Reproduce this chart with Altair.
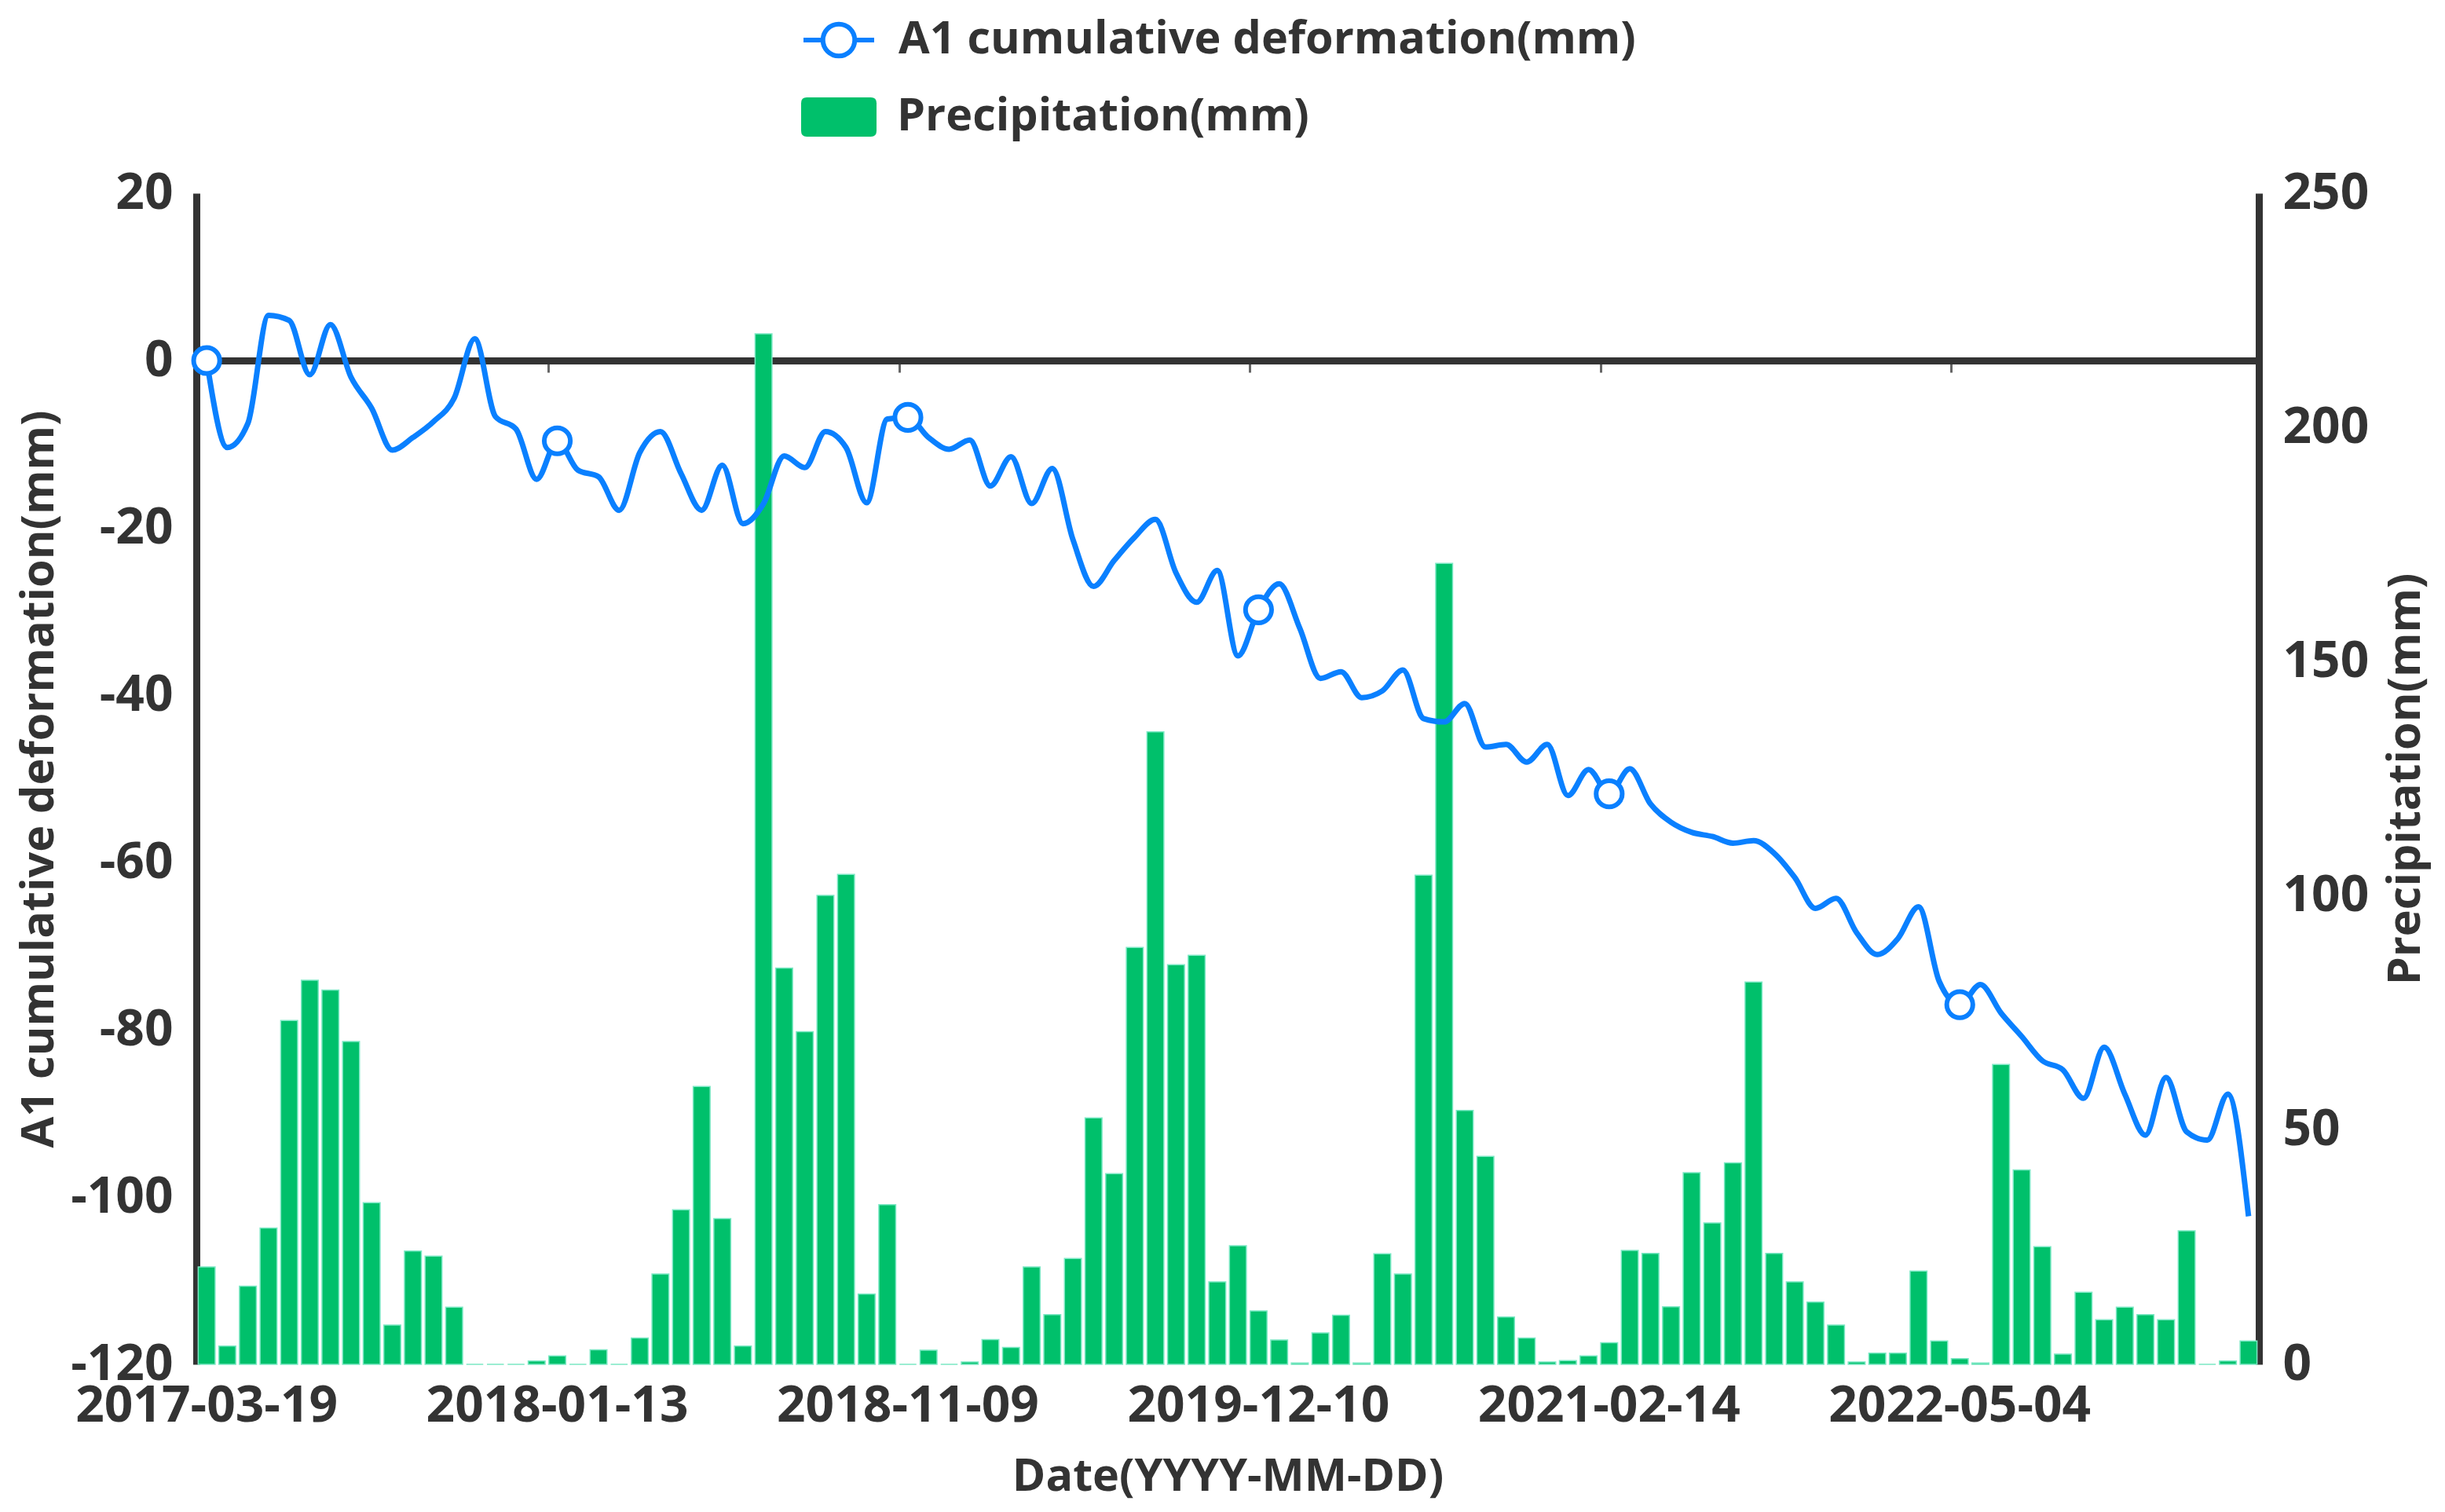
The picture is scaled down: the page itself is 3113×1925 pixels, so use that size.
import altair as alt
import pandas as pd

# ---------------- data ----------------
category_index = list(range(100))

deformation = [
    0.0, -10.4, -7.5, 5.4, 4.8, -1.7, 4.3, -2.0, -5.7, -10.7,
    -9.2, -7.3, -4.5, 2.6, -6.7, -8.2, -14.2, -9.6, -13.1, -13.9,
    -17.9, -11.0, -8.5, -13.5, -17.9, -12.5, -19.5, -17.1, -11.4, -12.8,
    -8.5, -10.4, -17.0, -7.0, -6.8, -9.2, -10.6, -9.5, -15.0, -11.5,
    -17.1, -12.9, -21.4, -27.0, -23.9, -21.1, -19.0, -25.4, -28.9, -25.1,
    -35.3, -29.8, -26.7, -32.0, -38.0, -37.2, -40.3, -39.5, -37.0, -42.8,
    -43.2, -41.0, -46.2, -45.9, -48.0, -45.9, -52.0, -48.9, -51.8, -48.8,
    -53.0, -55.2, -56.4, -56.9, -57.7, -57.4, -58.9, -61.8, -65.5, -64.3,
    -68.4, -71.0, -69.1, -65.3, -74.2, -77.0, -74.6, -78.0, -80.8, -83.7,
    -84.8, -88.2, -82.1, -87.7, -92.6, -85.7, -92.2, -93.2, -87.7, -102.3,
]

precipitation = [
    20.8, 3.9, 16.7, 29.1, 73.4, 82.0, 79.9, 68.9, 34.5, 8.4,
    24.2, 23.1, 12.2, 0, 0, 0, 0.7, 1.8, 0, 3.1,
    0, 5.6, 19.3, 33.0, 59.3, 31.1, 3.9, 220, 84.6, 71.0,
    100.1, 104.6, 15.0, 34.1, 0, 3.0, 0, 0.5, 5.3, 3.6,
    20.8, 10.6, 22.6, 52.6, 40.7, 89.0, 135, 85.3, 87.3, 17.6,
    25.3, 11.4, 5.2, 0.3, 6.7, 10.5, 0.3, 23.6, 19.3, 104.4,
    171, 54.2, 44.4, 10.1, 5.6, 0.5, 0.8, 1.8, 4.6, 24.3,
    23.7, 12.3, 40.9, 30.2, 43.0, 81.6, 23.7, 17.6, 13.3, 8.4,
    0.5, 2.4, 2.4, 19.9, 5.0, 1.2, 0.3, 64.0, 41.5, 25.1,
    2.2, 15.4, 9.5, 12.2, 10.6, 9.5, 28.5, 0, 0.7, 5.0,
]

tick_index = [0, 17, 34, 51, 68, 85]
tick_labels = ["2017-03-19", "2018-01-13", "2018-11-09",
               "2019-12-10", "2021-02-14", "2022-05-04"]
left_ticks = [-120, -100, -80, -60, -40, -20, 0, 20]
right_ticks = [0, 50, 100, 150, 200, 250]

line_name = "A1 cumulative deformation(mm)"
bar_name = "Precipitation(mm)"

df = pd.DataFrame({"idx": category_index,
                   "deformation": deformation,
                   "precip": precipitation})

# ---------------- style ----------------
W, H = 2626, 1491
FONT = "Open Sans"
DARK = "#333333"
BLUE = "#0a80ff"
GREEN = "#00c06b"
FS_TICK = 64
FS_TITLE = 57.5

label_expr = "''"
for i, lab in reversed(list(zip(tick_index, tick_labels))):
    label_expr = f"datum.value == {i} ? '{lab}' : ({label_expr})"

xscale = alt.Scale(paddingInner=0.18, paddingOuter=0.09)
left_scale = alt.Scale(domain=[-120, 20], nice=False, zero=False)

line_symbol = ("M-1,0L-0.45,0M0.45,0L1,0M0.45,0A0.45,0.45,0,1,1,-0.45,0"
               "A0.45,0.45,0,1,1,0.45,0Z")
rect_symbol = ("M-0.85,-0.52L0.85,-0.52Q1,-0.52,1,-0.37L1,0.37Q1,0.52,0.85,0.52"
               "L-0.85,0.52Q-1,0.52,-1,0.37L-1,-0.37Q-1,-0.52,-0.85,-0.52Z")

tick_style = dict(labelFont=FONT, labelFontSize=FS_TICK, labelFontWeight="bold",
                  labelColor=DARK)
title_style = dict(titleFont=FONT, titleFontSize=FS_TITLE, titleFontWeight="bold",
                   titleColor=DARK)
legend_style = dict(orient="none", title=None, labelFont=FONT,
                    labelFontSize=FS_TITLE, labelFontWeight="bold",
                    labelColor=DARK, labelLimit=3000, padding=0)

base = alt.Chart(df)

bars = base.transform_calculate(
    bar_series=f"'{bar_name}'"
).mark_bar(stroke="#7be8c4", strokeWidth=1.5).encode(
    x=alt.X("idx:O", scale=xscale,
            axis=alt.Axis(values=tick_index, labelExpr=label_expr, labelAngle=0,
                          labelLimit=1000, labelOverlap=False,
                          ticks=False, domain=False, grid=False,
                          labelPadding=21, title="Date(YYYY-MM-DD)",
                          titleBaseline="middle", titleY=143,
                          **tick_style, **title_style)),
    y=alt.Y("precip:Q", scale=alt.Scale(domain=[0, 250], nice=False),
            axis=alt.Axis(orient="right", values=right_ticks, ticks=False,
                          grid=False, domainWidth=9, domainColor=DARK,
                          labelPadding=30, title=bar_name,
                          titleAngle=270, titleBaseline="middle", titleX=187,
                          **tick_style, **title_style)),
    fill=alt.Fill("bar_series:N", scale=alt.Scale(domain=[bar_name], range=[GREEN]),
                  legend=alt.Legend(legendX=770, legendY=-145,
                                    symbolType=rect_symbol, symbolSize=9216,
                                    symbolStrokeWidth=0, labelOffset=26,
                                    **legend_style)),
)

line = base.transform_calculate(
    line_series=f"'{line_name}'"
).mark_line(interpolate="monotone", strokeWidth=7).encode(
    x=alt.X("idx:O", scale=xscale,
            axis=alt.Axis(orient="bottom", offset=-(6 * H / 7),
                          values=tick_index[1:], bandPosition=0, labels=False,
                          ticks=True, tickSize=15, tickWidth=3, tickColor="#666666",
                          domain=True, domainWidth=9, domainColor=DARK,
                          grid=False, title=None)),
    y=alt.Y("deformation:Q", scale=left_scale,
            axis=alt.Axis(orient="left", values=left_ticks, ticks=False,
                          grid=False, domainWidth=9, domainColor=DARK,
                          labelPadding=30, labelExpr="'' + datum.value",
                          title=line_name, titleAngle=270,
                          titleBaseline="middle", titleX=-200,
                          **tick_style, **title_style)),
    stroke=alt.Stroke("line_series:N", scale=alt.Scale(domain=[line_name], range=[BLUE]),
                      legend=alt.Legend(legendX=770, legendY=-243,
                                        symbolType=line_symbol, symbolSize=8100,
                                        symbolStrokeWidth=6, symbolFillColor="white",
                                        labelOffset=28, **legend_style)),
)

markers = base.transform_filter(
    alt.FieldOneOfPredicate(field="idx", oneOf=tick_index)
).mark_point(shape="circle", filled=True, fill="white", stroke=BLUE,
             strokeWidth=6, size=1100, opacity=1).encode(
    x=alt.X("idx:O", scale=xscale, axis=None),
    y=alt.Y("deformation:Q", scale=left_scale, axis=None),
)

chart = alt.layer(bars, line, markers).resolve_scale(
    y="independent"
).resolve_axis(
    x="independent"
).properties(
    width=W, height=H,
    autosize=alt.AutoSizeParams(type="none"),
    padding={"left": 242, "top": 238, "right": 229, "bottom": 180},
    background="white",
).configure_view(stroke=None)

chart.save("out.html", embed_options={"renderer": "svg", "actions": False})
